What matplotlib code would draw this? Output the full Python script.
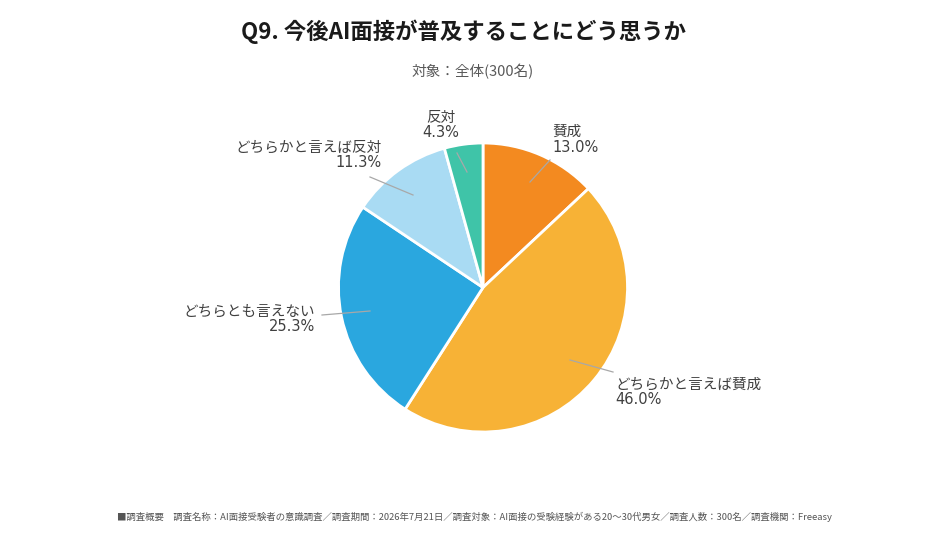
import matplotlib
matplotlib.use("Agg")
import matplotlib.pyplot as plt

plt.rcParams['font.family'] = ['Noto Sans CJK JP', 'DejaVu Sans']

# ---- data ----
categories = ["賛成", "どちらかと言えば賛成", "どちらとも言えない", "どちらかと言えば反対", "反対"]
values = [13.0, 46.0, 25.3, 11.3, 4.3]
colors = ["#F38A20", "#F7B236", "#2AA7DF", "#A9DBF3", "#3FC4A8"]

title = "Q9. 今後AI面接が普及することにどう思うか"
subtitle = "対象：全体(300名)"
footer = ("■調査概要　調査名称：AI面接受験者の意識調査／調査期間：2026年7月21日／調査対象：AI面接の受験経験がある20～30代男女"
          "／調査人数：300名／調査機関：Freeasy")

W, H = 947, 533
fig = plt.figure(figsize=(W / 100, H / 100), dpi=100)

# pie axes placed in pixel geometry
cx, cy, r = 483, 287.5, 144.5
ax = fig.add_axes([(cx - r) / W, (H - cy - r) / H, 2 * r / W, 2 * r / H])
wedges, _ = ax.pie(values, colors=colors, startangle=90, counterclock=False, radius=1,
                   wedgeprops=dict(edgecolor="white", linewidth=2))
ax.set_xlim(-1, 1)
ax.set_ylim(-1, 1)
ax.set_aspect('equal')
ax.axis('off')

def d(px, py):
    return ((px - cx) / r, (cy - py) / r)

# label layout (pixel positions): text anchor, alignment, leader start, leader end
layout = [
    ((552, 139.5), 'left', (530, 182), (550, 160)),
    ((615, 391.5), 'left', (570, 360), (613, 372)),
    ((315, 318.5), 'right', (370, 311), (322, 315)),
    ((382, 155), 'right', (413, 195), (370, 177)),
    ((441, 125), 'center', (467, 172), (457, 153)),
]

lab_family = ['DejaVu Sans', 'Noto Sans CJK JP']
for cat, v, (tpos, ha, l0, l1) in zip(categories, values, layout):
    tx, ty = d(*tpos)
    ax.text(tx, ty, f"{cat}\n{v:.1f}%", ha=ha, va='center', multialignment=ha,
            fontsize=10.5, color="#404040", linespacing=1.05, clip_on=False,
            family=lab_family)
    x0, y0 = d(*l0)
    x1, y1 = d(*l1)
    ax.plot([x0, x1], [y0, y1], color="#A8A8A8", lw=0.9, clip_on=False)

fig.text(463.5 / W, 1 - 32 / H, title, ha='center', va='center', fontsize=16.1,
         fontweight='bold', color="#1A1A1A")
fig.text(473 / W, 1 - 72 / H, subtitle, ha='center', va='center', fontsize=10.5,
         color="#595959")
fig.text(117 / W, 1 - 517 / H, footer, ha='left', va='center', fontsize=6.77,
         color="#555555")

fig.savefig("out.png", dpi=100)
